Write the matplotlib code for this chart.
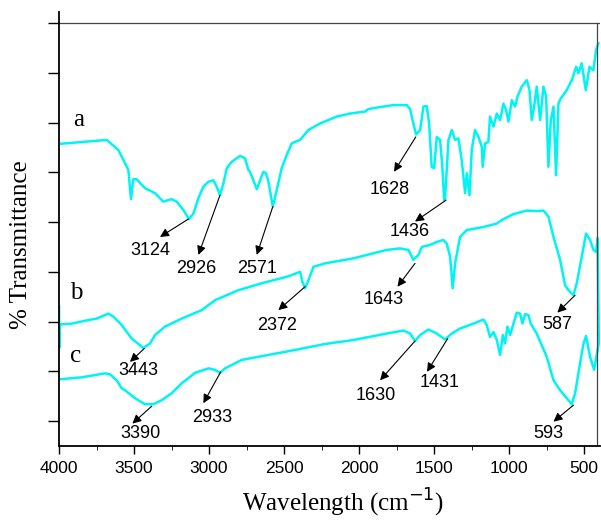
import numpy as np
import matplotlib.pyplot as plt

# spectrum a
wn_a = [4000, 3682, 3605, 3538, 3520, 3505, 3482, 3427, 3360, 3305, 3249, 3215, 3171, 3134,
        3104, 3071, 3038, 3004, 2971, 2949, 2927, 2904, 2882, 2849, 2793, 2760, 2738, 2727,
        2682, 2638, 2620, 2604, 2575, 2549, 2516, 2482, 2449, 2427, 2393, 2338, 2260, 2149,
        2060, 1960, 1938, 1860, 1771, 1682, 1660, 1638, 1620, 1593, 1571, 1549, 1533, 1516,
        1500, 1482, 1460, 1445, 1433, 1427, 1404, 1382, 1360, 1338, 1316, 1293, 1282, 1264,
        1249, 1227, 1204, 1182, 1176, 1160, 1138, 1127, 1104, 1082, 1060, 1038, 1020, 1004,
        982, 960, 944, 916, 882, 864, 849, 833, 816, 793, 771, 753, 738, 722, 704, 687,
        671, 656, 616, 582, 553, 538, 516, 489, 464, 438, 420, 405]
t_a = [55.7, 56.5, 54.5, 50.5, 44.6, 48.6, 48.6, 46.8, 45.8, 44.1, 44.6, 44.1, 42.4, 40.6,
       41.7, 44.8, 47.1, 48.1, 48.4, 47.1, 45.4, 47.8, 50.8, 52.1, 53.3, 52.8, 50.5, 50.1,
       46.6, 50.1, 49.8, 48.1, 43.1, 46.4, 50.8, 53.5, 55.8, 56.1, 56.5, 58.5, 59.8, 61.2,
       61.8, 62.2, 62.7, 63.1, 63.5, 63.5, 62.7, 59.8, 57.6, 58.5, 63.2, 63.3, 59.8, 51.1,
       50.8, 57.1, 56.5, 51.1, 44.4, 44.6, 56.5, 58.5, 56.5, 56.8, 52.5, 45.8, 49.8, 45.4,
       54.5, 58.5, 57.1, 55.1, 51.1, 55.8, 56.1, 61.2, 59.2, 61.8, 60.5, 63.8, 62.5, 60.2,
       64.5, 63.2, 65.2, 67.2, 68.5, 66.5, 60.5, 63.2, 67.2, 60.5, 67.2, 65.2, 51.1, 60.5,
       63.2, 49.4, 63.8, 64.8, 66.5, 68.5, 71.2, 69.9, 71.9, 66.5, 71.2, 70.5, 74.6, 75.9]

# spectrum b
wn_b = [4000, 3998, 3995, 3915, 3805, 3749, 3671, 3638, 3582, 3516, 3438, 3393, 3360, 3293,
        3182, 3049, 2960, 2805, 2649, 2471, 2393, 2378, 2360, 2338, 2304, 2227, 2038, 1816,
        1727, 1671, 1638, 1604, 1582, 1527, 1482, 1438, 1416, 1393, 1376, 1360, 1327, 1282,
        1171, 1082, 1049, 971, 882, 816, 771, 738, 704, 660, 627, 604, 571, 549, 516, 487,
        460, 438, 420, 410, 402]
t_b = [23.1, 14.7, 19.4, 19.6, 20.3, 20.6, 21.6, 21.0, 19.3, 16.6, 14.7, 15.6, 17.3, 19.0,
       20.6, 22.3, 24.3, 26.3, 27.7, 29.1, 30.0, 28.0, 26.7, 28.3, 31.0, 31.7, 32.7, 34.4,
       34.7, 34.4, 32.4, 33.4, 35.0, 35.4, 36.0, 36.4, 35.7, 33.0, 26.7, 31.7, 37.0, 38.4,
       39.0, 39.7, 40.4, 41.6, 42.3, 42.2, 42.3, 41.1, 37.0, 32.4, 27.3, 26.3, 25.3, 27.7,
       33.0, 37.7, 36.4, 34.4, 34.0, 36.8, 16.0]

# spectrum c
wn_c = [4000, 3849, 3693, 3660, 3616, 3582, 3560, 3493, 3427, 3371, 3316, 3249, 3182, 3093,
        3004, 2960, 2927, 2893, 2782, 2604, 2427, 2227, 2038, 1816, 1704, 1660, 1627, 1593,
        1538, 1482, 1427, 1382, 1327, 1238, 1171, 1149, 1127, 1104, 1082, 1060, 1042, 1027,
        1011, 993, 971, 949, 927, 911, 893, 871, 856, 816, 749, 704, 660, 616, 582, 560,
        527, 504, 487, 460, 433, 416, 398]
t_c = [8.4, 8.8, 9.6, 9.4, 8.2, 6.6, 6.2, 4.6, 3.4, 3.4, 4.2, 5.6, 7.6, 9.7,
       10.6, 10.3, 9.7, 10.6, 12.3, 13.3, 14.3, 15.5, 16.3, 17.6, 18.2, 17.6, 16.1, 17.3,
       18.4, 17.6, 16.4, 17.6, 18.6, 19.6, 20.4, 19.3, 16.9, 17.9, 16.3, 13.3, 17.3, 15.6,
       19.0, 17.3, 19.6, 21.8, 21.6, 19.6, 21.5, 21.3, 19.6, 17.6, 12.9, 8.2, 6.2, 4.6, 3.4, 5.6,
       11.6, 15.6, 17.1, 12.9, 10.3, 13.3, 16.3]

peak_labels = ['3124', '2926', '2571', '1628', '1436',
               '3443', '2372', '1643', '587',
               '3390', '2933', '1630', '1431', '593']
# (arrow tail on curve), (arrow head), (label centre)
peak_geom = [((3138, 40.6), (3327, 37.0), (3393, 34.3)),
             ((2927, 45.4), (3071, 33.4), (3082, 30.7)),
             ((2575, 43.1), (2682, 33.4), (2682, 30.7)),
             ((1622, 57.1), (1767, 50.1), (1793, 46.6)),
             ((1420, 44.4), (1627, 40.1), (1664, 38.0)),
             ((3431, 14.6), (3527, 11.9), (3471, 10.1)),
             ((2360, 27.0), (2538, 22.3), (2549, 19.3)),
             ((1627, 31.7), (1744, 27.0), (1838, 24.5)),
             ((560, 25.3), (678, 21.8), (678, 19.5)),
             ((3382, 3.0), (3511, -0.5), (3460, -2.5)),
             ((2922, 9.9), (3038, 3.6), (2982, 0.7)),
             ((1627, 16.1), (1860, 8.2), (1887, 5.2)),
             ((1409, 16.6), (1547, 9.9), (1464, 7.7)),
             ((571, 3.2), (704, -0.1), (738, -2.4))]

fig = plt.figure(figsize=(6.01, 5.2), dpi=100)
ax = fig.add_axes([0.0982, 0.1423, 0.8994, 0.8346])

for wn, t in [(wn_a, t_a), (wn_b, t_b), (wn_c, t_c)]:
    ax.plot(wn, t, color='#00f4f4', lw=1.8)

ax.text(3867, 60.6, 'a', fontsize=18, family='Liberation Serif', ha='center', va='center')
ax.text(3882, 25.7, 'b', fontsize=18, family='Liberation Serif', ha='center', va='center')
ax.text(3887, 13.1, 'c', fontsize=18, family='Liberation Serif', ha='center', va='center')

for lab, (tail, head, pos) in zip(peak_labels, peak_geom):
    ax.annotate('', xy=head, xytext=tail,
                arrowprops=dict(arrowstyle='-|>', color='black', lw=0.8,
                                mutation_scale=13, shrinkA=0, shrinkB=0))
    ax.text(pos[0], pos[1], lab, fontsize=13, family='Liberation Sans',
            ha='center', va='center')

ax.set_xlim(4000, 397)
ax.set_ylim(-5, 82.2)
ax.set_xticks(np.arange(4000, 499, -500))
ax.set_xticks(np.arange(3750, 400, -500), minor=True)
ax.set_yticks(np.arange(0, 81, 10))
ax.set_yticklabels([])
ax.tick_params(axis='both', direction='out', width=1)
ax.tick_params(axis='x', which='major', length=6, labelsize=12.5, pad=5)
ax.tick_params(axis='x', which='minor', length=3)
ax.tick_params(axis='y', length=8)
for lab in ax.get_xticklabels():
    lab.set_family('Liberation Sans')

ax.spines['top'].set_visible(False)
ax.spines['right'].set_visible(False)
ax.spines['left'].set_linewidth(1.3)
ax.spines['bottom'].set_linewidth(1.3)
ax.axhline(80, color='#444444', lw=0.9)
ax.axvline(415, ymin=0, ymax=85 / 87.2, color='#444444', lw=0.9)

ax.set_xlabel('Wavelength (cm$^{-1}$)', fontsize=18, family='Liberation Serif')
ax.set_ylabel('% Transmittance', fontsize=18, family='Liberation Serif')
ax.xaxis.set_label_coords(0.525, -0.095)
ax.yaxis.set_label_coords(-0.05, 0.465)

fig.savefig('out.png', dpi=100)
